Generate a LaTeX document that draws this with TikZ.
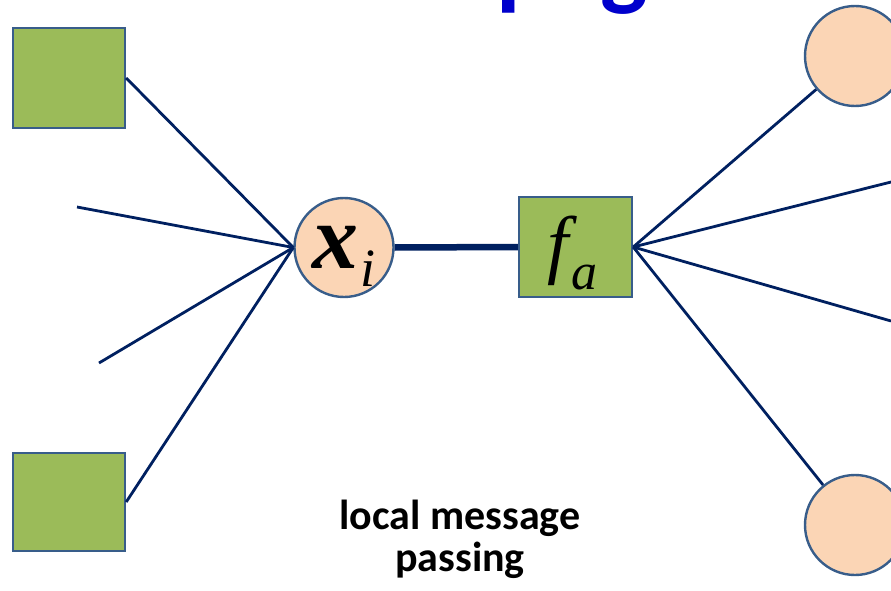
\documentclass[tikz,border=0pt]{standalone}
\usepackage{fontspec}
\setmainfont{Liberation Serif}
\newfontfamily\headfont{Carlito}
\definecolor{titleblue}{RGB}{0,0,204}
\definecolor{edgenavy}{RGB}{0,32,96}
\definecolor{outline}{RGB}{56,93,138}
\definecolor{factorgreen}{RGB}{155,187,89}
\definecolor{varpeach}{RGB}{251,213,181}
\begin{document}
\begin{tikzpicture}[x=1pt,y=-1pt,
  factor/.style={draw=outline,fill=factorgreen,line width=2.4pt,rectangle,
    minimum width=112pt,minimum height=100pt,inner sep=0pt},
  var/.style={draw=outline,fill=varpeach,line width=2.4pt,circle,
    minimum size=99pt,inner sep=0pt},
  edge/.style={draw=edgenavy,line width=2.8pt},
  mainedge/.style={draw=edgenavy,line width=6.5pt}]
\useasboundingbox (0,0) rectangle (891,591);
\clip (0,0) rectangle (891,591);

% heading, mostly above the frame
\node[anchor=base west,inner sep=0pt,text=titleblue,font=\headfont\bfseries\fontsize{100}{100}\selectfont]
  (title) at (96,-2) {Belief Propagation};

% free ends of the dangling edges
\coordinate (l1) at (77,207);
\coordinate (l2) at (99,363);
\coordinate (r1) at (891,182);
\coordinate (r2) at (891,321);

% factor nodes
\node[factor] (ftl) at (69,78) {};
\node[factor,minimum height=98pt] (fbl) at (69,502) {};
\node[factor,minimum width=113pt] (fa) at (575.5,247) {};

% variable nodes
\node[var] (xi) at (344,247.5) {};
\node[var,minimum size=100pt] (vtr) at (855,56) {};
\node[var,minimum size=100pt] (vbr) at (855,525) {};

% connectors
\draw[edge] (ftl.east) -- (xi.west);
\draw[edge] (l1) -- (xi.west);
\draw[edge] (l2) -- (xi.west);
\draw[edge] (fbl.east) -- (xi.west);
\draw[edge] (fa.east) -- (vtr);
\draw[edge] (fa.east) -- (r1);
\draw[edge] (fa.east) -- (r2);
\draw[edge] (fa.east) -- (vbr);
\draw[mainedge] (xi.east) -- (fa.west);

% labels inside the nodes
\node[inner sep=0pt,anchor=base] (xlab) at (335,268)
  {\fontsize{92}{92}\selectfont\textbf{\textit{x}}};
\node[inner sep=0pt,anchor=base] (ilab) at (368,286)
  {\fontsize{54}{54}\selectfont\textit{i}};
\node[inner sep=0pt,anchor=base] (flab) at (562,269)
  {\fontsize{76}{76}\selectfont\textit{f}};
\node[inner sep=0pt,anchor=base] (alab) at (584,289)
  {\fontsize{52}{52}\selectfont\textit{a}};

% caption (base anchor sits on the last line)
\node[align=center,inner sep=0pt,anchor=base,font=\headfont\bfseries\fontsize{42}{42}\selectfont]
  (cap) at (460,571) {local message\\passing};
\end{tikzpicture}
\end{document}
